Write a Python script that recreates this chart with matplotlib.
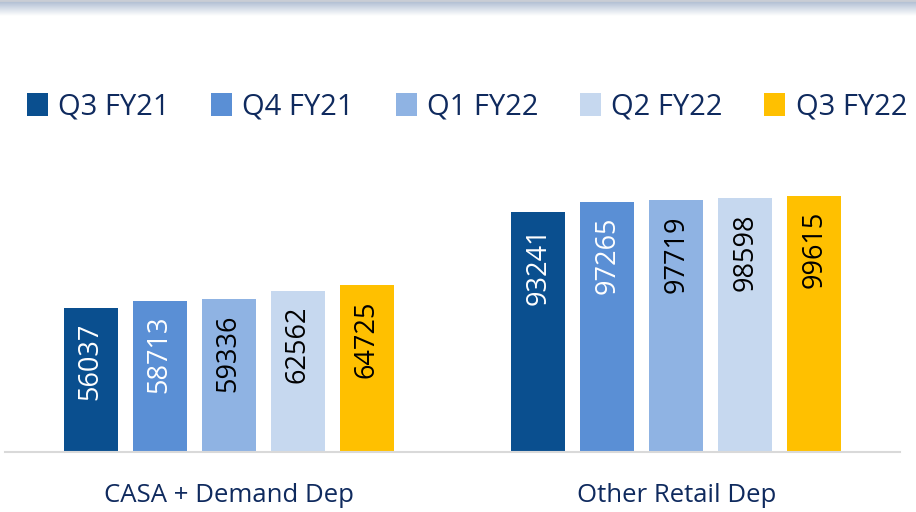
import matplotlib
matplotlib.use("Agg")
import matplotlib.pyplot as plt
import numpy as np
from matplotlib.patches import Patch

plt.rcParams['font.family'] = ['Open Sans', 'DejaVu Sans']

categories = ["CASA + Demand Dep", "Other Retail Dep"]
series_names = ["Q3 FY21", "Q4 FY21", "Q1 FY22", "Q2 FY22", "Q3 FY22"]
q3_fy21 = [56037, 93241]
q4_fy21 = [58713, 97265]
q1_fy22 = [59336, 97719]
q2_fy22 = [62562, 98598]
q3_fy22 = [64725, 99615]
series_values = [q3_fy21, q4_fy21, q1_fy22, q2_fy22, q3_fy22]
colors = ["#0A4F8F", "#5A8FD5", "#8FB3E3", "#C6D8EF", "#FFC000"]
label_colors = ["white", "white", "black", "black", "black"]
text_navy = "#0F2A5E"

W, H = 916, 512
fig = plt.figure(figsize=(W / 100, H / 100), dpi=100)

# top gradient band
bax = fig.add_axes([0, 1 - 16 / H, 1, 16 / H])
grad = np.linspace(0, 1, 64).reshape(-1, 1)
top = np.array([0.66, 0.72, 0.81])
bot = np.array([1.0, 1.0, 1.0])
img = top[None, None, :] * (1 - grad[:, :, None]) + bot[None, None, :] * grad[:, :, None]
img = np.repeat(img, 2, axis=1)
bax.imshow(img, aspect='auto', extent=[0, 1, 0, 1])
bax.axhline(0.97, color="#c9cdd5", lw=2)
bax.axis('off')

left_px, right_px, base_px, top_px = 5, 900, 452, 130
ax = fig.add_axes([left_px / W, 1 - base_px / H, (right_px - left_px) / W, (base_px - top_px) / H])
px_per_unit = 240 / 93241
ymax = (base_px - top_px) / px_per_unit

x = np.arange(len(categories))
bw = 54 / 447.5
step = 69 / 447.5
for i, (vals, c, lc) in enumerate(zip(series_values, colors, label_colors)):
    pos = x + (i - 2) * step
    bars = ax.bar(pos, vals, width=bw, color=c, label=series_names[i], zorder=2)
    for b, v in zip(bars, vals):
        ax.annotate(f"{v}", (b.get_x() + b.get_width() / 2, v), xytext=(0, -15),
                    textcoords="offset pixels", rotation=90, ha='center', va='top',
                    fontsize=19.5, color=lc)

ax.set_xlim(-0.5, 1.5)
ax.set_ylim(0, ymax)
for s in ["top", "right", "left"]:
    ax.spines[s].set_visible(False)
ax.spines["bottom"].set_color("#d9d9d9")
ax.spines["bottom"].set_linewidth(1.5)
ax.set_yticks([])
ax.set_xticks(x)
ax.set_xticklabels(categories, fontsize=18.5, color=text_navy)
ax.tick_params(axis='x', length=0, pad=22)

handles = [Patch(facecolor=c, edgecolor='none') for c in colors]
fig.legend(handles, series_names, loc='center', bbox_to_anchor=(467 / W, 1 - 107 / H),
           ncol=5, frameon=False, fontsize=21, labelcolor=text_navy,
           handlelength=0.72, handleheight=0.8, handletextpad=0.35, columnspacing=1.43)

fig.savefig("out.png", dpi=100)
